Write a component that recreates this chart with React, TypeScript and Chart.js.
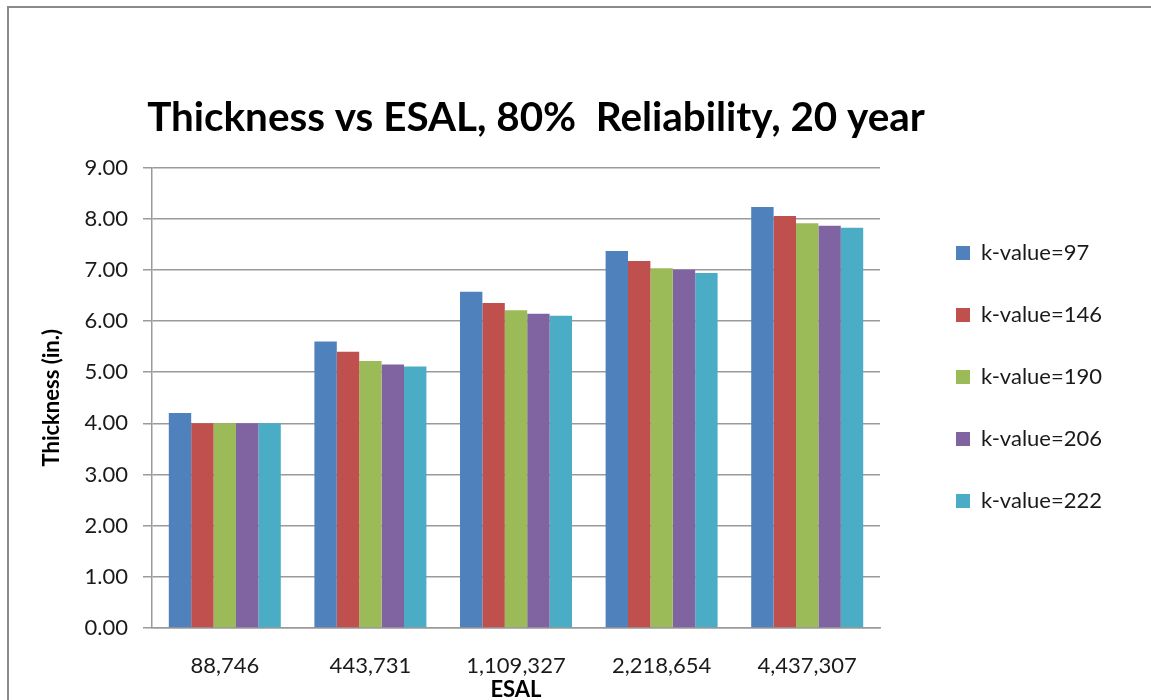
import React, { useEffect, useRef } from "react";
import { Chart, registerables } from "chart.js";

Chart.register(...registerables);

const categories = ["88,746", "443,731", "1,109,327", "2,218,654", "4,437,307"];
const seriesNames = ["k-value=97", "k-value=146", "k-value=190", "k-value=206", "k-value=222"];
const k97 = [4.2, 5.6, 6.57, 7.37, 8.23];
const k146 = [4.0, 5.4, 6.35, 7.17, 8.05];
const k190 = [4.0, 5.22, 6.21, 7.03, 7.91];
const k206 = [4.0, 5.15, 6.14, 7.0, 7.86];
const k222 = [4.0, 5.11, 6.1, 6.94, 7.82];
const seriesColors = ["#4F81BD", "#C0504D", "#9BBB59", "#8064A2", "#4BACC6"];
const yMin = 0;
const yMax = 9;
const yStep = 1;
const titleText = "Thickness vs ESAL, 80%  Reliability, 20 year";
const xTitle = "ESAL";
const yTitle = "Thickness (in.)";

const FONT = "Lato, 'Open Sans', sans-serif";

export default function App() {
  const ref = useRef<HTMLCanvasElement | null>(null);

  useEffect(() => {
    if (!ref.current) return;
    const seriesValues = [k97, k146, k190, k206, k222];
    const chart = new Chart(ref.current, {
      type: "bar",
      data: {
        labels: categories,
        datasets: seriesNames.map((name, i) => ({
          label: name,
          data: seriesValues[i],
          backgroundColor: seriesColors[i],
          borderWidth: 0,
          categoryPercentage: 5 / 6.5,
          barPercentage: 1,
        })),
      },
      options: {
        responsive: false,
        animation: false,
        layout: { padding: { left: -40, right: 39, top: 54, bottom: 0 } },
        font: { family: FONT },
        plugins: {
          tooltip: { enabled: false },
          title: {
            display: true,
            text: titleText,
            fullSize: true,
            align: "center",
            color: "#000",
            font: { family: FONT, size: 40.4, weight: "bold" },
            padding: { top: 40, bottom: 25 },
          },
          legend: {
            display: true,
            position: "right",
            maxWidth: 300,
            labels: {
              boxWidth: 14,
              boxHeight: 14,
              padding: 40,
              color: "#1a1a1a",
              font: { family: FONT, size: 22 },
            },
          },
        },
        scales: {
          x: {
            grid: { display: false, drawTicks: false },
            border: { display: true, color: "#9a9a9a", width: 1.5 },
            ticks: { color: "#1a1a1a", font: { family: FONT, size: 22 }, padding: 25 },
            title: {
              display: true,
              text: xTitle,
              color: "#000",
              font: { family: FONT, size: 22, weight: "bold" },
              padding: { top: 0, bottom: -3 },
            },
            afterFit: (s: any) => {
              s.height = 72;
            },
          },
          y: {
            min: yMin,
            max: yMax,
            grid: { color: "#9a9a9a", lineWidth: 1.5, tickLength: 9 },
            border: { display: true, color: "#9a9a9a", width: 1.5 },
            ticks: {
              stepSize: yStep,
              color: "#1a1a1a",
              font: { family: FONT, size: 22 },
              padding: 15,
              callback: (v: any) => Number(v).toFixed(2),
            },
            title: {
              display: true,
              text: yTitle,
              color: "#000",
              font: { family: FONT, size: 22, weight: "bold" },
              padding: { top: 79, bottom: 0 },
            },
            afterFit: (s: any) => {
              s.width = 192;
            },
          },
          gap: {
            type: "linear",
            position: "right",
            display: true,
            grid: { display: false, drawTicks: false },
            border: { display: false },
            ticks: { display: false },
            afterFit: (s: any) => {
              s.width = 36;
            },
          },
        },
      } as any,
    });
    return () => chart.destroy();
  }, []);

  return (
    <div style={{ position: "fixed", left: 0, top: 0, width: 1151, height: 700, overflow: "hidden", background: "#fff" }}>
      <div
        style={{
          position: "absolute",
          left: 7,
          top: 6,
          width: 1300,
          height: 900,
          border: "2px solid #8a8a8a",
        }}
      />
      <canvas ref={ref} width={1151} height={700} style={{ position: "absolute", left: 0, top: 0, display: "block" }} />
    </div>
  );
}
